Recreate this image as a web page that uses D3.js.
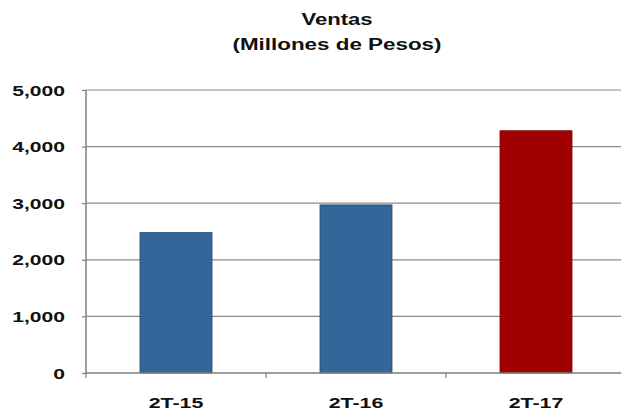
<!DOCTYPE html>
<html><head><meta charset="utf-8">
<script src="https://cdn.jsdelivr.net/npm/d3@7"></script>
<style>
html,body{margin:0;padding:0;background:#fff;}
text{font-family:"Liberation Sans",Arial,sans-serif;font-weight:bold;fill:#111;}
</style></head>
<body>
<svg id="c" width="621" height="412"></svg>
<script>
const categories = ["2T-15", "2T-16", "2T-17"];
const values = [2480, 2970, 4280];
const colors = ["#336699", "#336699", "#a00000"];
const yTicks = [0, 1000, 2000, 3000, 4000, 5000];
const titleLines = ["Ventas", "(Millones de Pesos)"];

(function () {
const svg = d3.select("#c");
const pL = 86, pR = 626, pT = 90, pB = 373;

const x = d3.scaleBand().domain(categories).range([pL, pR]).paddingInner(0.6).paddingOuter(0.3);
const y = d3.scaleLinear().domain([0, 5000]).range([pB, pT]);
const fmt = d3.format(",");

function stext(g, tx, ty, str, anchor, size, sx) {
  g.append("text")
    .attr("transform", `translate(${tx},${ty}) scale(${sx},1)`)
    .attr("text-anchor", anchor)
    .style("font-size", size + "px")
    .text(str);
}

// gridlines
svg.append("g").selectAll("line").data(yTicks.filter(d => d > 0)).join("line")
  .attr("x1", pL).attr("x2", pR)
  .attr("y1", d => y(d)).attr("y2", d => y(d))
  .attr("stroke", "#8c8c8c").attr("stroke-width", 1.2);

// bars
svg.append("g").selectAll("rect").data(values).join("rect")
  .attr("x", (d, i) => x(categories[i]))
  .attr("width", x.bandwidth())
  .attr("y", d => y(d))
  .attr("height", d => y(0) - y(d))
  .attr("fill", (d, i) => colors[i])
  .attr("stroke", (d, i) => i < 2 ? "#24496e" : "#800000")
  .attr("stroke-width", 0.8);

// y axis
const yAxis = d3.axisLeft(y).tickValues(yTicks).tickSize(4).tickFormat("");
const ya = svg.append("g").attr("transform", `translate(${pL},0)`).call(yAxis);
ya.select(".domain").attr("stroke", "#7f7f7f").attr("stroke-width", 1.5).attr("d", `M0,${pT}V${pB}`);
ya.selectAll(".tick line").attr("stroke", "#7f7f7f").attr("stroke-width", 1.2);
const yl = svg.append("g");
yTicks.forEach(t => stext(yl, 65, y(t) + 5.5, fmt(t), "end", 15.5, 1.36));

// x axis
const xa = svg.append("g").attr("transform", `translate(0,${pB})`);
xa.append("line").attr("x1", pL).attr("x2", pR).attr("y1", 0).attr("y2", 0)
  .attr("stroke", "#7f7f7f").attr("stroke-width", 1.5);
const step = x.step();
const bounds = d3.range(categories.length + 1).map(i => pL + i * step);
xa.selectAll("line.tk").data(bounds).join("line").attr("class", "tk")
  .attr("x1", d => d).attr("x2", d => d).attr("y1", 0).attr("y2", 5)
  .attr("stroke", "#7f7f7f").attr("stroke-width", 1.2);
const xl = svg.append("g");
categories.forEach(c => stext(xl, x(c) + x.bandwidth() / 2, 407.5, c, "middle", 15.5, 1.38));

// title
const tg = svg.append("g");
stext(tg, 337, 24.5, titleLines[0], "middle", 16, 1.38);
stext(tg, 337, 49.5, titleLines[1], "middle", 16, 1.4);
})();
</script>
</body></html>
